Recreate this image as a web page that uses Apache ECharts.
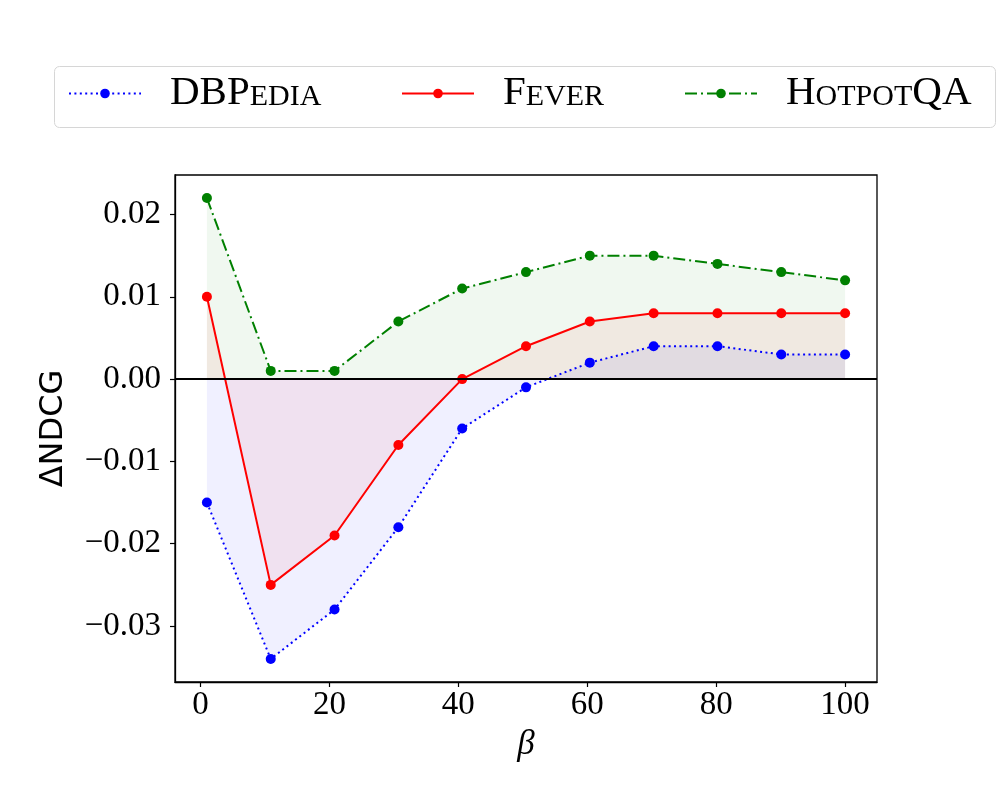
<!DOCTYPE html>
<html><head><meta charset="utf-8">
<script src="https://cdn.jsdelivr.net/npm/echarts@6/dist/echarts.min.js"></script>
<style>html,body{margin:0;padding:0;background:#fff}#c{width:1000px;height:800px}</style>
</head><body><div id="c"></div>
<script>
const betaValues = [1, 10.9, 20.8, 30.7, 40.6, 50.5, 60.4, 70.3, 80.2, 90.1, 100];
const dbpedia = [-0.015, -0.034, -0.028, -0.018, -0.006, -0.001, 0.002, 0.004, 0.004, 0.003, 0.003];
const fever = [0.010, -0.025, -0.019, -0.008, 0.000, 0.004, 0.007, 0.008, 0.008, 0.008, 0.008];
const hotpotqa = [0.022, 0.001, 0.001, 0.007, 0.011, 0.013, 0.015, 0.015, 0.014, 0.013, 0.012];
const xTicks = [0, 20, 40, 60, 80, 100];
const yTicks = [-0.03, -0.02, -0.01, 0, 0.01, 0.02];
const seriesNames = ['DBPedia', 'Fever', 'HotpotQA'];
const legendLabels = {
  DBPedia: '{b|DBP}{s|EDIA}',
  Fever: '{b|F}{s|EVER}',
  HotpotQA: '{b|H}{s|OTPOT}{b|QA}'
};

const serif = 'Liberation Serif';
const chart = echarts.init(document.getElementById('c'));

function mkSeries(name, vals, color, dash, extra) {
  return Object.assign({
    name: name,
    type: 'line',
    data: betaValues.map((x, i) => [x, vals[i]]),
    symbol: 'circle',
    symbolSize: 10,
    showSymbol: true,
    showAllSymbol: true,
    lineStyle: {color: color, width: 2, type: dash},
    itemStyle: {color: color},
    areaStyle: {color: color, opacity: 0.06},
    emphasis: {disabled: true},
    animation: false
  }, extra || {});
}

const rich = {
  b: {fontFamily: serif, fontSize: 41, color: '#000', verticalAlign: 'bottom'},
  s: {fontFamily: serif, fontSize: 30, color: '#000', verticalAlign: 'bottom', padding: [0, 0, 2, 0]}
};
function mkLegend(name, left) {
  return {
    data: [name],
    left: left,
    top: 73,
    padding: 0,
    itemWidth: 72,
    itemHeight: 12,
    selectedMode: false,
    formatter: n => legendLabels[n],
    textStyle: {rich: rich, padding: [0, 0, 0, 24]}
  };
}

const option = {
  backgroundColor: '#fff',
  animation: false,
  graphic: [{
    type: 'rect',
    shape: {x: 54.5, y: 66.5, width: 941, height: 61, r: 5},
    style: {fill: '#fff', stroke: '#d6d6d6', lineWidth: 1},
    z: 0
  }],
  legend: [mkLegend(seriesNames[0], 68), mkLegend(seriesNames[1], 401), mkLegend(seriesNames[2], 684)],
  grid: {
    left: 175, right: 123, top: 175, bottom: 118,
    show: true, borderColor: '#000', borderWidth: 1.3, backgroundColor: 'transparent'
  },
  xAxis: {
    type: 'value',
    min: -3.95, max: 104.95,
    name: 'β',
    nameLocation: 'middle',
    nameGap: 42,
    nameTextStyle: {fontFamily: serif, fontStyle: 'italic', fontSize: 35, color: '#000'},
    axisLine: {show: true, onZero: false, lineStyle: {color: '#000', width: 1.3}},
    axisTick: {show: true, length: 5, customValues: xTicks, lineStyle: {color: '#000', width: 1.2}},
    axisLabel: {customValues: xTicks, fontFamily: serif, fontSize: 33, color: '#000', margin: 7},
    splitLine: {show: false}
  },
  yAxis: {
    type: 'value',
    min: -0.0368, max: 0.0248,
    name: 'ΔNDCG',
    nameLocation: 'middle',
    nameRotate: 90,
    nameGap: 105,
    nameTextStyle: {fontFamily: 'DejaVu Sans', fontSize: 32, color: '#000'},
    axisLine: {show: true, onZero: false, lineStyle: {color: '#000', width: 1.3}},
    axisTick: {show: true, length: 5, customValues: yTicks, lineStyle: {color: '#000', width: 1.2}},
    axisLabel: {
      customValues: yTicks, fontFamily: serif, fontSize: 33, color: '#000', margin: 14,
      formatter: v => (v < -1e-9 ? '\u2212' : '') + Math.abs(v).toFixed(2)
    },
    splitLine: {show: false}
  },
  series: [
    mkSeries(seriesNames[0], dbpedia, '#0000ff', [2, 3.4], {
      markLine: {
        silent: true, symbol: ['none', 'none'], label: {show: false},
        lineStyle: {color: '#000', width: 2, type: 'solid'},
        emphasis: {disabled: true},
        data: [{yAxis: 0}], animation: false
      }
    }),
    mkSeries(seriesNames[1], fever, '#ff0000', 'solid'),
    mkSeries(seriesNames[2], hotpotqa, '#008000', [12, 4, 2, 4])
  ]
};
chart.setOption(option);
</script>
</body></html>
